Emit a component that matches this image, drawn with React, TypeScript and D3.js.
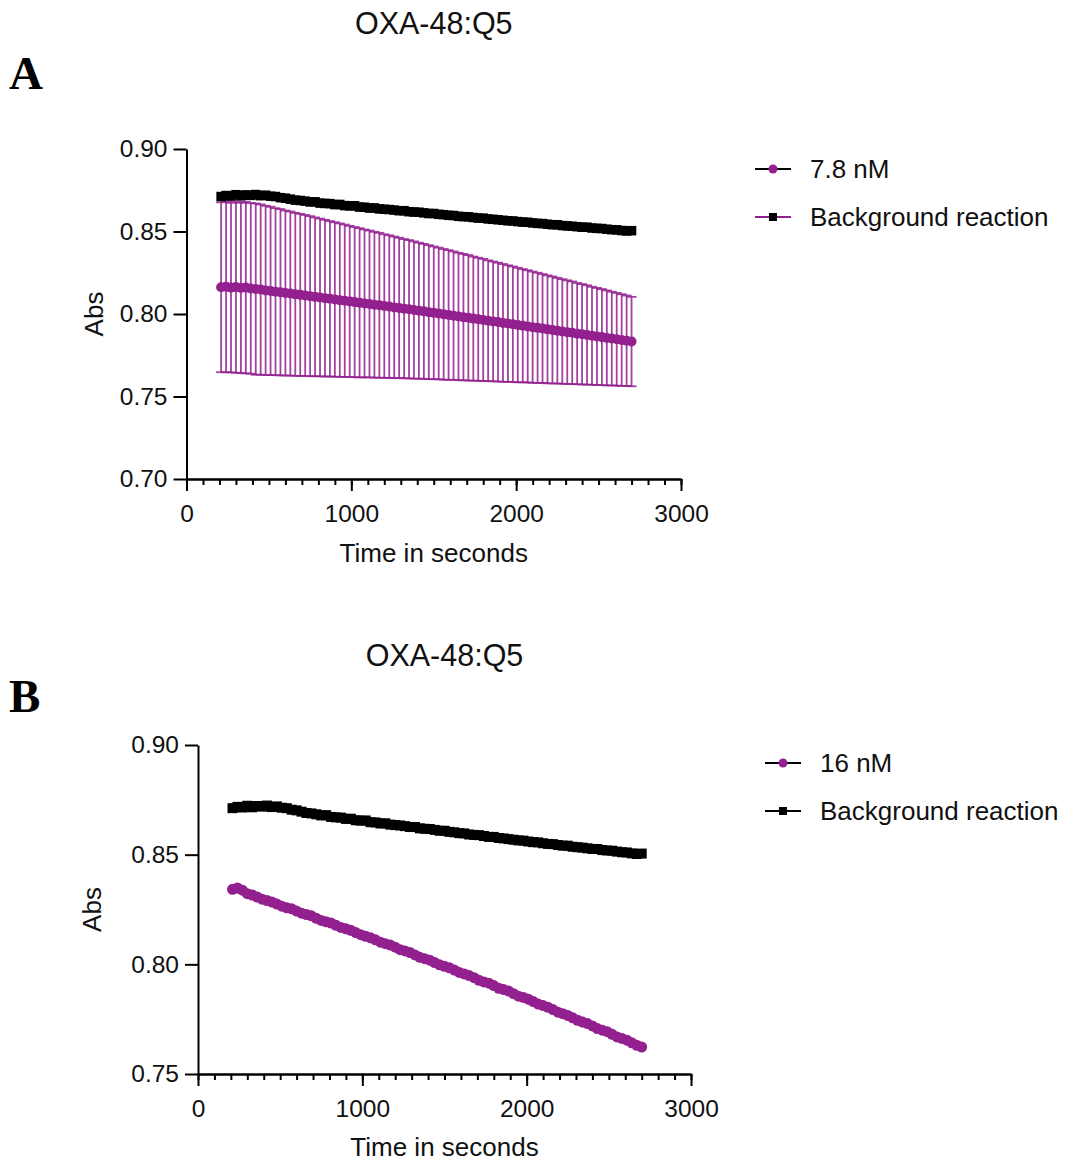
import React, { useEffect, useRef } from "react";
import * as d3 from "d3";

// time points (s)
const TIME_S = [
  210, 240, 270, 300, 330, 360, 390, 420, 450, 480,
  510, 540, 570, 600, 630, 660, 690, 720, 750, 780,
  810, 840, 870, 900, 930, 960, 990, 1020, 1050, 1080,
  1110, 1140, 1170, 1200, 1230, 1260, 1290, 1320, 1350, 1380,
  1410, 1440, 1470, 1500, 1530, 1560, 1590, 1620, 1650, 1680,
  1710, 1740, 1770, 1800, 1830, 1860, 1890, 1920, 1950, 1980,
  2010, 2040, 2070, 2100, 2130, 2160, 2190, 2220, 2250, 2280,
  2310, 2340, 2370, 2400, 2430, 2460, 2490, 2520, 2550, 2580,
  2610, 2640, 2670, 2700,
];

// background reaction (no enzyme)
const BACKGROUND = [
  0.8712, 0.8718, 0.8715, 0.8723, 0.8716, 0.8722, 0.8719, 0.8724, 0.8717, 0.8720,
  0.8714, 0.8712, 0.8705, 0.8702, 0.8696, 0.8690, 0.8688, 0.8684, 0.8679, 0.8680,
  0.8672, 0.8670, 0.8669, 0.8663, 0.8664, 0.8657, 0.8655, 0.8656, 0.8648, 0.8647,
  0.8642, 0.8643, 0.8637, 0.8635, 0.8633, 0.8630, 0.8626, 0.8626, 0.8620, 0.8618,
  0.8617, 0.8613, 0.8609, 0.8609, 0.8604, 0.8602, 0.8598, 0.8597, 0.8592, 0.8590,
  0.8589, 0.8585, 0.8581, 0.8581, 0.8576, 0.8574, 0.8571, 0.8568, 0.8565, 0.8564,
  0.8560, 0.8557, 0.8556, 0.8552, 0.8549, 0.8548, 0.8544, 0.8541, 0.8541, 0.8536,
  0.8534, 0.8532, 0.8529, 0.8526, 0.8526, 0.8521, 0.8519, 0.8518, 0.8514, 0.8511,
  0.8510, 0.8506, 0.8503, 0.8505,
];

// 7.8 nM: mean and SD
const MEAN_7_8 = [
  0.8162, 0.8165, 0.8160, 0.8163, 0.8158, 0.8160, 0.8155, 0.8151, 0.8148, 0.8143,
  0.8140, 0.8135, 0.8132, 0.8127, 0.8124, 0.8119, 0.8116, 0.8112, 0.8108, 0.8104,
  0.8100, 0.8096, 0.8092, 0.8088, 0.8084, 0.8080, 0.8076, 0.8072, 0.8068, 0.8064,
  0.8061, 0.8056, 0.8053, 0.8048, 0.8045, 0.8040, 0.8037, 0.8032, 0.8029, 0.8024,
  0.8020, 0.8016, 0.8011, 0.8007, 0.8003, 0.7998, 0.7994, 0.7990, 0.7985, 0.7981,
  0.7977, 0.7972, 0.7968, 0.7964, 0.7959, 0.7955, 0.7951, 0.7946, 0.7942, 0.7938,
  0.7933, 0.7929, 0.7925, 0.7920, 0.7916, 0.7912, 0.7907, 0.7903, 0.7899, 0.7894,
  0.7890, 0.7886, 0.7881, 0.7877, 0.7873, 0.7868, 0.7864, 0.7860, 0.7855, 0.7851,
  0.7847, 0.7842, 0.7838, 0.7833,
];
const SD_7_8 = [
  0.0515, 0.0518, 0.0514, 0.0519, 0.0516, 0.0520, 0.0517, 0.0519, 0.0516, 0.0513,
  0.0510, 0.0506, 0.0504, 0.0500, 0.0497, 0.0494, 0.0491, 0.0488, 0.0485, 0.0481,
  0.0478, 0.0475, 0.0471, 0.0468, 0.0465, 0.0462, 0.0458, 0.0455, 0.0452, 0.0448,
  0.0445, 0.0442, 0.0439, 0.0435, 0.0432, 0.0429, 0.0425, 0.0422, 0.0419, 0.0416,
  0.0412, 0.0409, 0.0406, 0.0402, 0.0399, 0.0396, 0.0393, 0.0389, 0.0386, 0.0383,
  0.0380, 0.0376, 0.0373, 0.0370, 0.0366, 0.0363, 0.0360, 0.0357, 0.0353, 0.0350,
  0.0347, 0.0343, 0.0340, 0.0337, 0.0334, 0.0330, 0.0327, 0.0324, 0.0320, 0.0317,
  0.0314, 0.0311, 0.0307, 0.0304, 0.0301, 0.0297, 0.0294, 0.0291, 0.0288, 0.0284,
  0.0281, 0.0278, 0.0274, 0.0271,
];

// 16 nM
const MEAN_16 = [
  0.8342, 0.8348, 0.8338, 0.8322, 0.8316, 0.8307, 0.8297, 0.8291, 0.8284, 0.8275,
  0.8265, 0.8258, 0.8253, 0.8243, 0.8233, 0.8227, 0.8221, 0.8210, 0.8200, 0.8194,
  0.8188, 0.8178, 0.8168, 0.8162, 0.8155, 0.8145, 0.8135, 0.8128, 0.8121, 0.8112,
  0.8101, 0.8094, 0.8088, 0.8078, 0.8067, 0.8061, 0.8054, 0.8043, 0.8032, 0.8026,
  0.8019, 0.8008, 0.7998, 0.7991, 0.7984, 0.7974, 0.7963, 0.7956, 0.7949, 0.7939,
  0.7927, 0.7920, 0.7914, 0.7903, 0.7891, 0.7885, 0.7878, 0.7866, 0.7855, 0.7849,
  0.7841, 0.7830, 0.7819, 0.7812, 0.7804, 0.7794, 0.7782, 0.7775, 0.7767, 0.7756,
  0.7745, 0.7737, 0.7730, 0.7719, 0.7707, 0.7700, 0.7693, 0.7681, 0.7669, 0.7662,
  0.7654, 0.7642, 0.7631, 0.7623,
];

const TITLE = "OXA-48:Q5";
const X_LABEL = "Time in seconds";
const Y_LABEL = "Abs";
const X_MAJOR = [0, 1000, 2000, 3000];
const X_MINOR = [
  0, 100, 200, 300, 400, 500, 600, 700, 800, 900, 1000, 1100, 1200, 1300, 1400,
  1500, 1600, 1700, 1800, 1900, 2000, 2100, 2200, 2300, 2400, 2500, 2600, 2700,
  2800, 2900, 3000,
];
const Y_TICKS_A = [0.7, 0.75, 0.8, 0.85, 0.9];
const Y_TICKS_B = [0.75, 0.8, 0.85, 0.9];
const LEGEND_A = ["7.8 nM", "Background reaction"];
const LEGEND_B = ["16 nM", "Background reaction"];

const PURPLE = "#93208f";
const FONT = "'Liberation Sans', Arial, Helvetica, sans-serif";

function drawAxes(svg, x, y, yTicks) {
  const y0 = y.range()[0];
  const x0 = x.range()[0];

  // minor x ticks
  svg
    .append("g")
    .attr("transform", `translate(0,${y0})`)
    .call(
      d3.axisBottom(x).tickValues(X_MINOR).tickSize(6).tickSizeOuter(0).tickFormat(() => "")
    );

  // major x ticks
  svg
    .append("g")
    .attr("transform", `translate(0,${y0})`)
    .call(
      d3
        .axisBottom(x)
        .tickValues(X_MAJOR)
        .tickSize(12)
        .tickSizeOuter(0)
        .tickPadding(14)
        .tickFormat(d3.format("d"))
    );

  // y axis
  svg
    .append("g")
    .attr("transform", `translate(${x0},0)`)
    .call(
      d3
        .axisLeft(y)
        .tickValues(yTicks)
        .tickSize(13)
        .tickSizeOuter(0)
        .tickPadding(6)
        .tickFormat(d3.format(".2f"))
    );

  svg.selectAll(".domain, .tick line").attr("stroke", "#000").attr("stroke-width", 2);
  svg
    .selectAll(".tick text")
    .attr("font-family", FONT)
    .attr("font-size", 24.5)
    .attr("fill", "#111");
}

function drawLegend(svg, x, yTop, labels, secondLineColor) {
  const items = [
    { label: labels[0], line: "#000", marker: "circle" },
    { label: labels[1], line: secondLineColor, marker: "square" },
  ];
  items.forEach((d, i) => {
    const cy = yTop + i * 48;
    svg
      .append("line")
      .attr("x1", x)
      .attr("x2", x + 36)
      .attr("y1", cy)
      .attr("y2", cy)
      .attr("stroke", d.line)
      .attr("stroke-width", 2);
    if (d.marker === "circle") {
      svg.append("circle").attr("cx", x + 18).attr("cy", cy).attr("r", 4.5).attr("fill", PURPLE);
    } else {
      svg
        .append("rect")
        .attr("x", x + 14)
        .attr("y", cy - 4)
        .attr("width", 8)
        .attr("height", 8)
        .attr("fill", "#000");
    }
    svg
      .append("text")
      .attr("x", x + 55)
      .attr("y", cy + 9)
      .attr("font-family", FONT)
      .attr("font-size", 26)
      .attr("fill", "#111")
      .text(d.label);
  });
}

function drawLabels(svg, x, y, letter, letterY, titleY, absX, timeY) {
  const [xl, xr] = x.range();
  const [yb, yt] = y.range();
  svg
    .append("text")
    .attr("x", 9)
    .attr("y", letterY)
    .attr("font-family", "'Liberation Serif', 'Times New Roman', serif")
    .attr("font-weight", "bold")
    .attr("font-size", 47)
    .text(letter);
  svg
    .append("text")
    .attr("x", (xl + xr) / 2)
    .attr("y", titleY)
    .attr("text-anchor", "middle")
    .attr("font-family", FONT)
    .attr("font-size", 30.5)
    .attr("fill", "#111")
    .text(TITLE);
  svg
    .append("text")
    .attr("x", (xl + xr) / 2)
    .attr("y", timeY)
    .attr("text-anchor", "middle")
    .attr("font-family", FONT)
    .attr("font-size", 26)
    .attr("fill", "#111")
    .text(X_LABEL);
  svg
    .append("text")
    .attr("transform", `translate(${absX},${(yb + yt) / 2}) rotate(-90)`)
    .attr("text-anchor", "middle")
    .attr("font-family", FONT)
    .attr("font-size", 26)
    .attr("fill", "#111")
    .text(Y_LABEL);
}

function drawSquares(svg, x, y, values, size) {
  svg
    .append("path")
    .datum(values)
    .attr("fill", "none")
    .attr("stroke", "#000")
    .attr("stroke-width", 2)
    .attr("d", d3.line().x((d, i) => x(TIME_S[i])).y((d) => y(d)));
  svg
    .append("g")
    .selectAll("rect")
    .data(values)
    .join("rect")
    .attr("x", (d, i) => x(TIME_S[i]) - size / 2)
    .attr("y", (d) => y(d) - size / 2)
    .attr("width", size)
    .attr("height", size)
    .attr("fill", "#000");
}

function drawCircles(svg, x, y, values, r) {
  svg
    .append("path")
    .datum(values)
    .attr("fill", "none")
    .attr("stroke", PURPLE)
    .attr("stroke-width", 2)
    .attr("d", d3.line().x((d, i) => x(TIME_S[i])).y((d) => y(d)));
  svg
    .append("g")
    .selectAll("circle")
    .data(values)
    .join("circle")
    .attr("cx", (d, i) => x(TIME_S[i]))
    .attr("cy", (d) => y(d))
    .attr("r", r)
    .attr("fill", PURPLE);
}

function createFigure(container) {
  d3.select(container).selectAll("*").remove();

  const svg = d3
    .select(container)
    .append("svg")
    .attr("width", 1069)
    .attr("height", 1162)
    .style("position", "absolute")
    .style("left", "0px")
    .style("top", "0px")
    .style("background", "#fff");

  // ---- Panel A ----
  const xA = d3.scaleLinear().domain([0, 3000]).range([186.5, 681]);
  const yA = d3.scaleLinear().domain([0.7, 0.9]).range([479, 149]);
  const gA = svg.append("g");
  drawLabels(gA, xA, yA, "A", 89, 34, 103, 562);

  // error bars (mean ± SD)
  const bars = gA
    .append("g")
    .attr("stroke", PURPLE)
    .attr("stroke-opacity", 0.85)
    .attr("stroke-width", 1.8);
  MEAN_7_8.forEach((m, i) => {
    const cx = xA(TIME_S[i]);
    const hi = yA(m + SD_7_8[i]);
    const lo = yA(m - SD_7_8[i]);
    bars.append("line").attr("x1", cx).attr("x2", cx).attr("y1", hi).attr("y2", lo);
    bars.append("line").attr("x1", cx - 5).attr("x2", cx + 5).attr("y1", hi).attr("y2", hi);
    bars.append("line").attr("x1", cx - 5).attr("x2", cx + 5).attr("y1", lo).attr("y2", lo);
  });
  drawCircles(gA, xA, yA, MEAN_7_8, 5);
  drawSquares(gA, xA, yA, BACKGROUND, 9.5);
  drawAxes(gA, xA, yA, Y_TICKS_A);
  drawLegend(gA, 755, 169, LEGEND_A, PURPLE);

  // ---- Panel B ----
  const xB = d3.scaleLinear().domain([0, 3000]).range([198, 691]);
  const yB = d3.scaleLinear().domain([0.75, 0.9]).range([1074, 745]);
  const gB = svg.append("g");
  drawLabels(gB, xB, yB, "B", 712, 666, 101, 1156);
  drawCircles(gB, xB, yB, MEAN_16, 5.5);
  drawSquares(gB, xB, yB, BACKGROUND, 10);
  drawAxes(gB, xB, yB, Y_TICKS_B);
  drawLegend(gB, 765, 763, LEGEND_B, "#000");
}

export default function App() {
  const ref = useRef(null);
  useEffect(() => {
    if (ref.current) createFigure(ref.current);
  }, []);
  return <div ref={ref} />;
}
